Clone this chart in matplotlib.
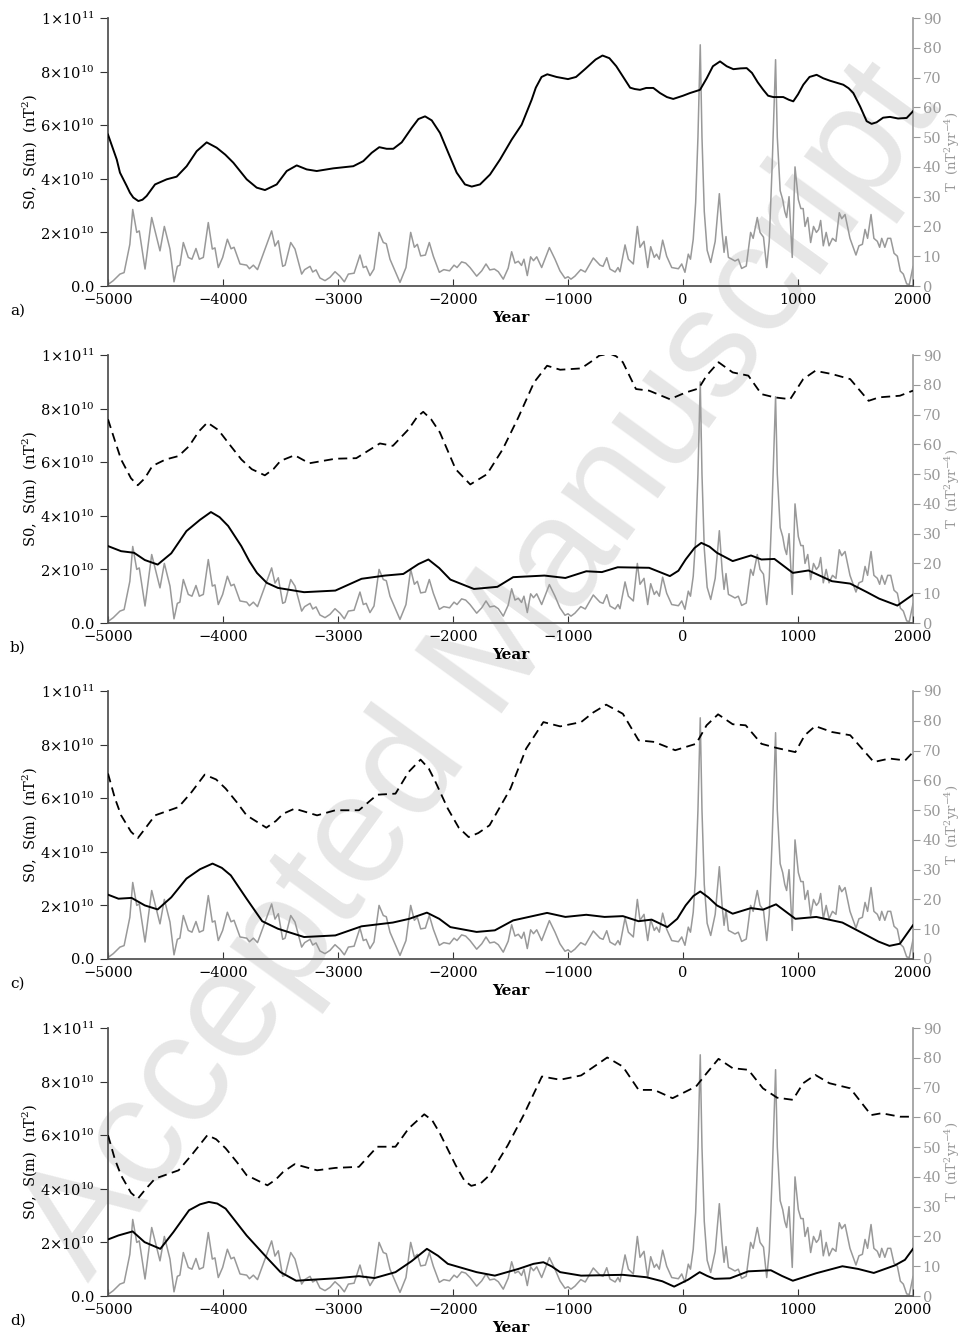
import numpy as np
import matplotlib
matplotlib.use("Agg")
import matplotlib.pyplot as plt

plt.rcParams['font.family'] = ['DejaVu Serif']
plt.rcParams['mathtext.fontset'] = 'dejavuserif'

# gray series T (nT^2 yr^-4), same in every panel
t_years = [-5000, -4954, -4896, -4860, -4810, -4785, -4750, -4728, -4678, -4620,
           -4548, -4510, -4461, -4426, -4397, -4375, -4345, -4302, -4270, -4235,
           -4206, -4171, -4128, -4093, -4070, -4041, -4003, -3962, -3930, -3904,
           -3852, -3794, -3770, -3736, -3700, -3635, -3577, -3548, -3519, -3481,
           -3460, -3411, -3374, -3316, -3290, -3243, -3220, -3191, -3157, -3113,
           -3070, -3026, -2983, -2945, -2910, -2860, -2809, -2780, -2755, -2722,
           -2687, -2643, -2606, -2580, -2548, -2461, -2409, -2368, -2336, -2310,
           -2281, -2240, -2206, -2171, -2119, -2080, -2030, -1991, -1965, -1925,
           -1890, -1852, -1794, -1750, -1713, -1680, -1640, -1606, -1563, -1520,
           -1490, -1461, -1432, -1404, -1383, -1354, -1325, -1300, -1272, -1229,
           -1162, -1113, -1070, -1026, -1000, -974, -940, -889, -850, -780,
           -722, -695, -663, -635, -590, -565, -548, -504, -475, -432,
           -397, -374, -339, -307, -281, -250, -230, -206, -177, -142,
           -98, -40, -11, 17, 46, 65, 89, 110, 130, 150,
           165, 185, 210, 241, 280, 316, 340, 357, 374, 395,
           425, 452, 481, 510, 550, 588, 610, 646, 670, 700,
           728, 750, 775, 805, 820, 845, 867, 885, 901, 922,
           950, 974, 1003, 1025, 1045, 1061, 1085, 1110, 1135, 1160,
           1180, 1197, 1220, 1245, 1270, 1300, 1330, 1359, 1380, 1409,
           1452, 1504, 1530, 1560, 1583, 1605, 1635, 1660, 1690, 1710,
           1728, 1755, 1780, 1806, 1835, 1864, 1890, 1916, 1945, 1968, 2000]
t_vals = [0.5, 1.8, 4.0, 4.5, 14, 25.7, 18, 18.5, 5.7, 23,
          11.8, 20, 12.4, 1.4, 6.6, 7, 14.6, 9.6, 9, 12.6,
          9, 9.6, 21.3, 12.4, 12.8, 6.2, 9.6, 15.7, 12.5, 13,
          7.4, 7, 5.8, 7, 5.5, 12.4, 18.5, 13.4, 15.2, 6.6,
          7, 14.6, 12.4, 4.0, 5.5, 6.6, 4.7, 5.4, 2.7, 1.8,
          2.9, 4.8, 3.3, 1.4, 4.0, 4.3, 10.4, 6.2, 6.6, 3.5,
          5.7, 18, 14.6, 14.2, 9, 1.2, 6.2, 18, 13, 14,
          10.1, 10.4, 14.6, 10, 4.6, 5.5, 5.1, 7, 6.2, 8.1,
          7.7, 6.2, 3.3, 5.1, 7.4, 5.4, 5.7, 4.8, 2.3, 6,
          11.5, 7.7, 8.3, 6.9, 9, 3.5, 9.8, 8.5, 9.8, 6.2,
          12.9, 9, 5.1, 2.6, 3.1, 2.3, 3.3, 5.5, 4.7, 9.4,
          7, 6.6, 9.5, 5.7, 4.7, 6.2, 4.8, 13.8, 9, 7.4,
          20, 13, 15, 6.2, 13.2, 9.6, 10.7, 9, 15.4, 10,
          6.2, 5.8, 7.4, 4.6, 10.7, 9, 15.7, 28, 50, 81,
          50, 25, 12, 7.9, 15, 31, 18, 11.3, 16.6, 9.6,
          9, 8.4, 9, 5.9, 6.7, 18, 16, 23, 18, 16.4,
          6.2, 15, 40, 76, 50, 32, 29, 25, 23, 30,
          9.6, 40, 29, 26, 26, 20, 23, 14.6, 20, 18,
          19, 22, 13.5, 18, 13.5, 16, 15, 24.6, 22.6, 24,
          16, 10.4, 13.5, 14, 19, 16, 24, 16, 15, 13,
          16, 13, 16, 16, 11, 10, 5, 4, 0.7, 0.5, 6.5]

# panel a: S0 (units of 1e10 nT^2)
a_years = [-5000, -4924, -4896, -4837, -4809, -4780, -4736, -4700, -4664, -4591,
           -4490, -4403, -4316, -4229, -4142, -4055, -3980, -3910, -3794, -3707,
           -3635, -3533, -3446, -3359, -3272, -3185, -3041, -2867, -2780, -2707,
           -2641, -2577, -2519, -2446, -2359, -2301, -2243, -2185, -2113, -2041,
           -1968, -1896, -1837, -1765, -1678, -1591, -1490, -1403, -1316, -1280,
           -1230, -1180, -1100, -1000, -930, -850, -760, -700, -640, -580,
           -520, -460, -420, -374, -320, -258, -200, -140, -85, 0,
           61, 148, 206, 260, 322, 380, 438, 500, 554, 600,
           650, 698, 740, 785, 872, 920, 959, 1000, 1046, 1100,
           1162, 1220, 1278, 1394, 1440, 1481, 1540, 1597, 1640, 1684,
           1740, 1800, 1870, 1945, 2000]
a_s0 = [5.65, 4.72, 4.23, 3.73, 3.48, 3.3, 3.17, 3.22, 3.36, 3.79,
        3.98, 4.08, 4.47, 5.03, 5.36, 5.16, 4.9, 4.6, 3.98, 3.67,
        3.58, 3.79, 4.29, 4.5, 4.35, 4.29, 4.39, 4.47, 4.66, 4.97,
        5.18, 5.12, 5.12, 5.36, 5.9, 6.23, 6.33, 6.18, 5.71, 4.97,
        4.23, 3.79, 3.71, 3.79, 4.16, 4.72, 5.46, 6.02, 6.95, 7.4,
        7.8, 7.9, 7.8, 7.72, 7.8, 8.1, 8.45, 8.6, 8.5, 8.2,
        7.8, 7.4, 7.35, 7.32, 7.39, 7.39, 7.2, 7.05, 6.98, 7.1,
        7.2, 7.32, 7.75, 8.2, 8.38, 8.2, 8.09, 8.12, 8.13, 7.95,
        7.6, 7.32, 7.1, 7.05, 7.05, 6.95, 6.89, 7.15, 7.51, 7.8,
        7.88, 7.75, 7.66, 7.51, 7.38, 7.2, 6.7, 6.15, 6.05, 6.11,
        6.28, 6.31, 6.25, 6.27, 6.52]

# panel b
b_dash_years = [-5000, -4940, -4886, -4800, -4741, -4680, -4614, -4500, -4386, -4295,
                -4210, -4136, -4040, -3932, -3840, -3750, -3636, -3560, -3500, -3377,
                -3250, -3023, -2841, -2636, -2523, -2386, -2310, -2259, -2190, -2114,
                -1977, -1850, -1705, -1568, -1432, -1295, -1182, -1068, -886, -800,
                -727, -636, -580, -523, -409, -295, -114, 23, 136, 205,
                309, 432, 568, 682, 795, 932, 1045, 1150, 1295, 1454,
                1614, 1705, 1886, 2000]
b_dash = [7.6, 6.8, 6.1, 5.4, 5.14, 5.4, 5.86, 6.1, 6.23, 6.6,
          7.15, 7.48, 7.2, 6.6, 6.1, 5.74, 5.51, 5.75, 6.05, 6.26,
          5.96, 6.13, 6.15, 6.70, 6.61, 7.23, 7.7, 7.88, 7.6, 7.11,
          5.74, 5.17, 5.55, 6.48, 7.67, 8.98, 9.6, 9.45, 9.5, 9.75,
          9.98, 10.05, 9.95, 9.73, 8.73, 8.67, 8.35, 8.6, 8.75, 9.23,
          9.73, 9.35, 9.23, 8.54, 8.42, 8.35, 9.1, 9.41, 9.29, 9.1,
          8.29, 8.42, 8.48, 8.67]
b_sol_years = [-5000, -4886, -4773, -4680, -4568, -4450, -4318, -4200, -4105, -4030,
               -3955, -3841, -3770, -3705, -3620, -3523, -3295, -3023, -2795, -2591,
               -2432, -2300, -2214, -2120, -2023, -1818, -1614, -1477, -1205, -1023,
               -841, -705, -568, -295, -114, -40, 23, 100, 159, 230,
               295, 432, 591, 682, 795, 955, 1091, 1295, 1454, 1600,
               1705, 1864, 2000]
b_sol = [2.87, 2.68, 2.62, 2.35, 2.18, 2.6, 3.43, 3.85, 4.14, 3.95,
         3.62, 2.87, 2.3, 1.87, 1.5, 1.31, 1.15, 1.21, 1.65, 1.77,
         1.83, 2.2, 2.37, 2.05, 1.62, 1.27, 1.35, 1.71, 1.77, 1.68,
         1.93, 1.9, 2.08, 2.06, 1.75, 1.95, 2.37, 2.8, 2.99, 2.85,
         2.62, 2.31, 2.52, 2.37, 2.39, 1.87, 1.96, 1.56, 1.47, 1.15,
         0.91, 0.65, 1.06]

# panel c
c_dash_years = [-5000, -4940, -4886, -4800, -4741, -4680, -4591, -4386, -4273, -4159,
                -4060, -3977, -3880, -3795, -3623, -3540, -3477, -3377, -3182, -3023,
                -2818, -2659, -2500, -2386, -2282, -2210, -2159, -2045, -1950, -1864,
                -1780, -1682, -1500, -1364, -1214, -1068, -886, -780, -668, -523,
                -386, -250, -68, 114, 205, 305, 432, 545, 682, 818,
                977, 1059, 1150, 1295, 1454, 1659, 1795, 1932, 2000]
c_dash = [6.92, 6.0, 5.36, 4.75, 4.51, 4.85, 5.36, 5.67, 6.23, 6.88,
          6.7, 6.36, 5.85, 5.36, 4.9, 5.15, 5.42, 5.61, 5.36, 5.55,
          5.55, 6.13, 6.17, 6.98, 7.44, 7.1, 6.67, 5.61, 4.9, 4.55,
          4.7, 4.99, 6.36, 7.85, 8.84, 8.68, 8.84, 9.2, 9.49, 9.15,
          8.16, 8.1, 7.79, 8.03, 8.72, 9.13, 8.76, 8.72, 8.03, 7.87,
          7.72, 8.35, 8.69, 8.47, 8.35, 7.35, 7.48, 7.41, 7.72]
c_sol_years = [-5000, -4909, -4795, -4680, -4568, -4450, -4318, -4200, -4091, -4010,
               -3932, -3795, -3659, -3523, -3295, -3023, -2795, -2523, -2380, -2227,
               -2120, -2023, -1795, -1636, -1477, -1182, -1023, -841, -682, -523,
               -386, -273, -136, -50, 23, 90, 150, 220, 295, 432,
               591, 695, 809, 977, 1159, 1386, 1568, 1700, 1795, 1886, 2000]
c_sol = [2.4, 2.25, 2.28, 2.0, 1.85, 2.3, 3.0, 3.35, 3.56, 3.4,
         3.12, 2.25, 1.41, 1.13, 0.82, 0.88, 1.22, 1.36, 1.5, 1.73,
         1.5, 1.19, 1.01, 1.07, 1.44, 1.72, 1.57, 1.65, 1.57, 1.6,
         1.41, 1.47, 1.19, 1.5, 2.0, 2.35, 2.52, 2.3, 2.0, 1.69,
         1.9, 1.84, 2.04, 1.5, 1.57, 1.36, 0.95, 0.65, 0.49, 0.57, 1.26]

# panel d
d_dash_years = [-5000, -4940, -4886, -4800, -4741, -4680, -4591, -4386, -4273, -4136,
                -4060, -3977, -3880, -3795, -3614, -3540, -3477, -3377, -3182, -3023,
                -2818, -2659, -2500, -2386, -2250, -2180, -2114, -1977, -1900, -1841,
                -1760, -1682, -1523, -1386, -1227, -1068, -886, -760, -659, -523,
                -386, -250, -91, 114, 205, 309, 432, 568, 695, 818,
                955, 1045, 1150, 1273, 1454, 1636, 1727, 1886, 2000]
d_dash = [6.0, 5.1, 4.5, 3.85, 3.63, 3.95, 4.38, 4.69, 5.26, 6.0,
          5.85, 5.51, 5.0, 4.51, 4.13, 4.35, 4.63, 4.92, 4.69, 4.78,
          4.82, 5.57, 5.57, 6.25, 6.78, 6.55, 6.07, 4.88, 4.3, 4.11,
          4.2, 4.51, 5.63, 6.75, 8.19, 8.07, 8.23, 8.6, 8.9, 8.56,
          7.69, 7.69, 7.38, 7.82, 8.31, 8.85, 8.5, 8.44, 7.75, 7.4,
          7.32, 7.94, 8.25, 7.94, 7.75, 6.75, 6.82, 6.69, 6.69]
d_sol_years = [-5000, -4909, -4786, -4682, -4545, -4432, -4295, -4200, -4123, -4050,
               -3977, -3795, -3614, -3500, -3364, -3023, -2818, -2682, -2500, -2360,
               -2227, -2130, -2045, -1795, -1636, -1432, -1300, -1214, -1140, -1068,
               -886, -523, -318, -180, -77, 45, 145, 210, 273, 409,
               568, 764, 860, 955, 1159, 1386, 1523, 1659, 1841, 1930, 2000]
d_sol = [2.11, 2.26, 2.41, 2.01, 1.76, 2.38, 3.2, 3.42, 3.51, 3.45,
         3.26, 2.26, 1.41, 0.89, 0.57, 0.66, 0.74, 0.67, 0.89, 1.3,
         1.76, 1.5, 1.2, 0.89, 0.76, 1.01, 1.2, 1.26, 1.1, 0.89,
         0.76, 0.79, 0.7, 0.55, 0.35, 0.61, 0.89, 0.75, 0.64, 0.66,
         0.92, 0.96, 0.75, 0.57, 0.85, 1.11, 1.01, 0.86, 1.14, 1.35, 1.76]

panels = [
    ("a)", [(a_years, a_s0, "-")]),
    ("b)", [(b_dash_years, b_dash, "--"), (b_sol_years, b_sol, "-")]),
    ("c)", [(c_dash_years, c_dash, "--"), (c_sol_years, c_sol, "-")]),
    ("d)", [(d_dash_years, d_dash, "--"), (d_sol_years, d_sol, "-")]),
]

left_ticks = [0, 2e10, 4e10, 6e10, 8e10, 1e11]
left_labels = ["0.0", r"2$\times$10$^{10}$", r"4$\times$10$^{10}$",
               r"6$\times$10$^{10}$", r"8$\times$10$^{10}$", r"1$\times$10$^{11}$"]
x_ticks = [-5000, -4000, -3000, -2000, -1000, 0, 1000, 2000]

W, H = 965, 1344
fig = plt.figure(figsize=(W / 100, H / 100), dpi=100)

gray = "#999999"
ax_left = 108 / W
ax_w = (913 - 108) / W
ax_h = 268 / H
tops = [18, 355, 691, 1028]

for i, (letter, curves) in enumerate(panels):
    bottom = 1 - (tops[i] + 268) / H
    ax = fig.add_axes([ax_left, bottom, ax_w, ax_h])
    ax.patch.set_alpha(0)
    ax2 = ax.twinx()
    ax2.patch.set_alpha(0)

    ax2.plot(t_years, t_vals, color=gray, lw=1.1)
    ax2.set_ylim(0, 90)
    ax2.set_yticks(range(0, 91, 10))
    ax2.tick_params(axis="y", colors=gray, labelcolor=gray, direction="out",
                    length=5, labelsize=10.5, pad=2)
    ax2.set_ylabel(r"T  (nT$^2$yr$^{-4}$)", color=gray, fontsize=9.5, va="center")
    ax2.yaxis.set_label_coords(1.049, 0.5)

    for xs, ys, ls in curves:
        yv = [v * 1e10 for v in ys]
        if ls == "--":
            ax.plot(xs, yv, color="black", lw=1.3, linestyle=(0, (5, 3)), zorder=3)
        else:
            ax.plot(xs, yv, color="black", lw=1.4, zorder=3)
    ax.set_zorder(ax2.get_zorder() + 1)

    ax.set_xlim(-5000, 2000)
    ax.set_ylim(0, 1e11)
    ax.set_yticks(left_ticks)
    ax.set_yticklabels(left_labels)
    ax.set_xticks(x_ticks)
    ax.set_xticklabels([str(v).replace("-", "\u2212") for v in x_ticks])
    ax.tick_params(axis="y", direction="out", length=6, labelsize=10.5, colors="#333333",
                   labelcolor="black")
    ax.tick_params(axis="x", direction="in", length=5, labelsize=10.5, colors="#333333",
                   labelcolor="black", pad=5)
    ax.set_ylabel(r"S0,  S(m)  (nT$^2$)", fontsize=10.5, va="center")
    ax.yaxis.set_label_coords(-0.098, 0.5)
    ax.set_xlabel("Year", fontsize=11, fontweight="bold", labelpad=3)

    for sp in ["top", "right"]:
        ax.spines[sp].set_visible(False)
    ax.spines["left"].set_color("#555555")
    ax.spines["bottom"].set_color("#555555")
    ax.spines["left"].set_linewidth(1.3)
    ax.spines["bottom"].set_linewidth(1.3)
    ax2.spines["top"].set_visible(False)
    ax2.spines["left"].set_visible(False)
    ax2.spines["bottom"].set_visible(False)
    ax2.spines["right"].set_color(gray)
    ax2.spines["right"].set_linewidth(1.2)

    fig.text(10 / W, 1 - (tops[i] + 293) / H, letter, fontsize=11, ha="left", va="center")

fig.text(0.5, 0.5, "Accepted Manuscript", fontsize=112, color="#e6e6e6",
         family="Liberation Sans", rotation=54, ha="center", va="center",
         rotation_mode="anchor", zorder=-10)

fig.savefig("out.png", dpi=100)
